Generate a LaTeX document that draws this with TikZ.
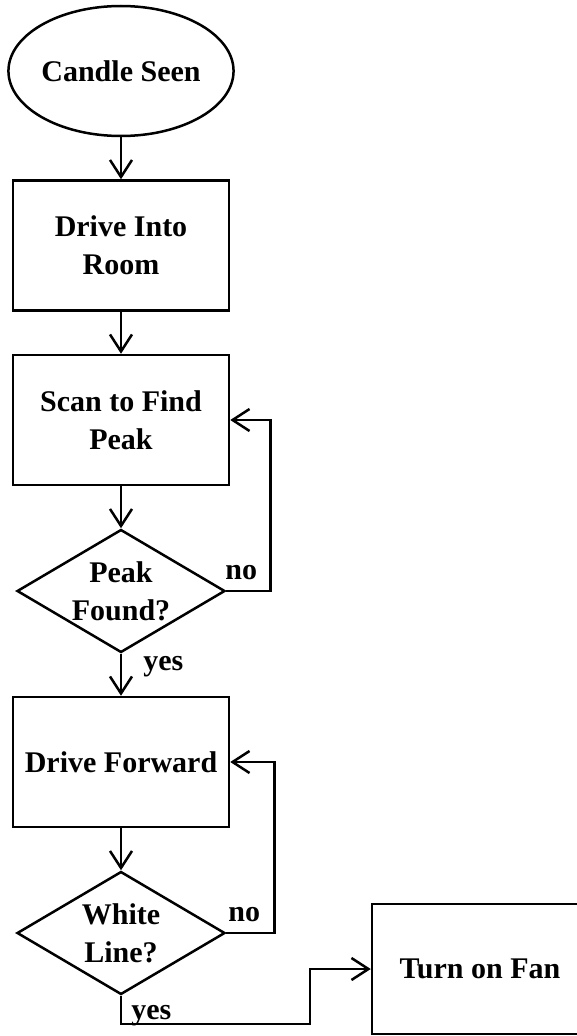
\documentclass[tikz,border=0pt]{standalone}
\usepackage{fontspec}
\setmainfont{Liberation Serif}
\usetikzlibrary{arrows.meta,positioning,shapes.geometric}

\begin{document}
\begin{tikzpicture}[
    x=1pt, y=1pt,
    font=\fontsize{30}{38}\selectfont\bfseries,
    node distance=42pt,
    line width=2.5pt,
    startbox/.style={draw, ellipse, minimum width=217pt, minimum height=130pt, inner sep=0pt},
    stepbox/.style={draw, rectangle, minimum width=216pt, minimum height=130pt, align=center, inner sep=0pt},
    askbox/.style={draw, diamond, shape aspect=1.7, minimum width=208pt, minimum height=123pt, align=center, inner sep=0pt},
    lbl/.style={inner sep=0pt},
    arrow/.style={-{Straight Barb[length=17pt, width=22pt]}},
]
\useasboundingbox (0,0) rectangle (577,-1036);
\clip (0,0) rectangle (577,-1036);
\node[startbox] (seen) at (121,-71) {Candle Seen};
\node[stepbox, below=of seen] (room)  {Drive Into\\Room};
\node[stepbox, below=of room] (scan)  {Scan to Find\\Peak};
\node[askbox, below=of scan]  (peak)  {Peak\\Found?};
\node[stepbox, below=of peak] (fwd)   {Drive Forward};
\node[askbox, below=of fwd]   (white) {White\\Line?};
\node[stepbox] (fan) at (480,-969) {Turn on Fan};
\coordinate (yesbend) at (310,-1024);
\draw[arrow] (seen) -- (room);
\draw[arrow] (room) -- (scan);
\draw[arrow] (scan) -- (peak);
\draw[arrow] (peak) -- (fwd);
\draw[arrow] (fwd)  -- (white);
\draw[arrow] (peak.east)  -- ++(44,0) |- (scan.east);
\draw[arrow] (white.east) -- ++(48,0) |- (fwd.east);
\draw[arrow] (white.south) |- (yesbend) |- (fan.west);
\node[lbl, anchor=base] (no1) at ([xshift=15pt, yshift=12pt]peak.east) {no};
\node[lbl, anchor=base] (no2) at ([xshift=18pt, yshift=12pt]white.east) {no};
\node[lbl, anchor=base west] (yes1) at ([xshift=21pt, yshift=-17pt]peak.south) {yes};
\node[lbl, anchor=base west] (yes2) at ([xshift=9pt, yshift=-24pt]white.south) {yes};
\end{tikzpicture}
\end{document}
